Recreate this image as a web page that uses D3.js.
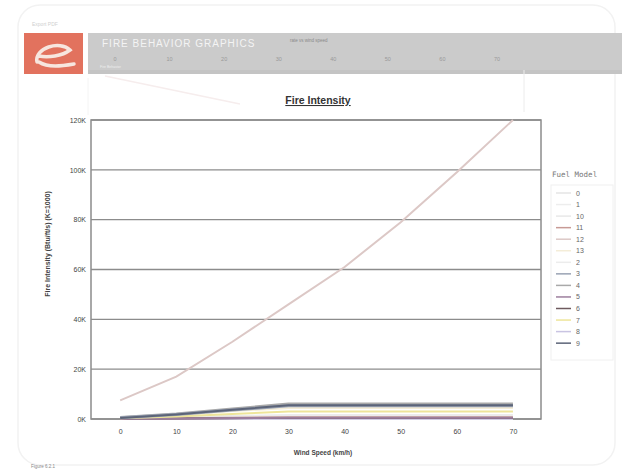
<!DOCTYPE html>
<html><head><meta charset="utf-8">
<script src="https://cdn.jsdelivr.net/npm/d3@7"></script>
<style>body{margin:0;background:#fff;font-family:"Liberation Sans",Arial,sans-serif}</style>
</head><body>
<svg id="c" width="628" height="472"></svg>
<script>
const windSpeeds = [0, 10, 20, 30, 40, 50, 60, 70];
const fuelModels = ["0","1","10","11","12","13","2","3","4","5","6","7","8","9"];
const colors = ["#e4e4e4","#ededed","#e8e8e8","#c79a95","#dcc8c6","#f4edd8","#ececec","#9aa3b4","#a9a9a9","#9d7f9e","#6e5a5e","#eee59a","#c9c4e2","#5c6478"];
const s0  = [0,0,0,0,0,0,0,0];
const s1  = [100,300,500,600,600,600,600,600];
const s10 = [200,700,1200,1500,1500,1500,1500,1500];
const s11 = [100,300,500,700,700,700,700,700];
const s12 = [7500,17000,31000,46000,61000,79000,99000,120000];
const s13 = [400,1500,3200,4400,4400,4400,4400,4400];
const s2  = [150,600,1000,1400,1400,1400,1400,1400];
const s3  = [500,1800,3600,5300,5300,5300,5300,5300];
const s4  = [600,2000,4000,6000,6000,6000,6000,6000];
const s5  = [100,250,400,500,500,500,500,500];
const s6  = [80,200,350,450,450,450,450,450];
const s7  = [300,1000,2000,3000,3000,3000,3000,3000];
const s8  = [0,50,80,100,100,100,100,100];
const s9  = [400,1800,3700,5500,5500,5500,5500,5500];
const seriesValues = [s0,s1,s10,s11,s12,s13,s2,s3,s4,s5,s6,s7,s8,s9];
const yTicks = [0,20000,40000,60000,80000,100000,120000];
const yTickLabels = ["0K","20K","40K","60K","80K","100K","120K"];
const xTicks = [0,10,20,30,40,50,60,70];
const drawOrder = [0,1,2,6,8,12,3,5,10,9,11,7,13,4];

const svg = d3.select("#c");
// card
svg.append("rect").attr("x",18).attr("y",5).attr("width",597).attr("height",460).attr("rx",22)
  .attr("fill","#fff").attr("stroke","#f2f2f2").attr("stroke-width",1.5);
svg.append("text").attr("x",32).attr("y",26).attr("font-size",5).attr("fill","#d0d0d0").text("Export PDF");
// header banner
svg.append("rect").attr("x",88).attr("y",33).attr("width",534).attr("height",41).attr("fill","#cbcbcb");
svg.append("rect").attr("x",88).attr("y",70).attr("width",534).attr("height",4).attr("fill","#c4c4c4");
svg.append("rect").attr("x",24).attr("y",33).attr("width",59).attr("height",41).attr("fill","#e2725e");
const lg = svg.append("g").attr("fill","none").attr("stroke","#f7e6df").attr("stroke-width",3.5).attr("stroke-linecap","round");
lg.append("path").attr("d","M37,62 C34,48 60,40 70,50 C62,56 48,58 39,56");
lg.append("path").attr("d","M39,62 C48,68 62,66 74,64");
svg.append("text").attr("x",102).attr("y",47).attr("font-size",10).attr("fill","#f4f4f4").attr("letter-spacing",1).text("FIRE BEHAVIOR GRAPHICS");
svg.append("text").attr("x",290).attr("y",42).attr("font-size",4.5).attr("fill","#8a8a8a").text("rate vs wind speed");
const hx = d3.scaleLinear().domain([0,70]).range([115,497]);
svg.append("g").selectAll("text").data(xTicks).join("text").attr("x",d=>hx(d)).attr("y",61)
  .attr("font-size",5.5).attr("fill","#999").attr("text-anchor","middle").text(d=>d);
svg.append("text").attr("x",100).attr("y",68).attr("font-size",3.5).attr("fill","#eee").text("Fire Behavior");
svg.append("line").attr("x1",524).attr("y1",70).attr("x2",524).attr("y2",112).attr("stroke","#ececec");
svg.append("line").attr("x1",105).attr("y1",76).attr("x2",240).attr("y2",104).attr("stroke","#f6eded").attr("stroke-width",1.5);
svg.append("line").attr("x1",88).attr("y1",78).attr("x2",88).attr("y2",115).attr("stroke","#f4f4f4");

// chart
const m = {l:91, r:541, t:120, b:419};
const x = d3.scaleLinear().domain([-5.2,75]).range([m.l,m.r]);
const y = d3.scaleLinear().domain([0,120000]).range([m.b,m.t]);

svg.append("text").attr("x",318).attr("y",104).attr("text-anchor","middle").attr("font-size",10.5)
  .attr("font-weight","bold").attr("fill","#333").attr("text-decoration","underline").text("Fire Intensity");

svg.append("g").selectAll("line").data(yTicks).join("line")
  .attr("x1",m.l).attr("x2",m.r).attr("y1",d=>y(d)).attr("y2",d=>y(d))
  .attr("stroke","#8c8c8c").attr("stroke-width",1.3);
svg.append("rect").attr("x",m.l).attr("y",m.t).attr("width",m.r-m.l).attr("height",m.b-m.t)
  .attr("fill","none").attr("stroke","#8c8c8c").attr("stroke-width",1.5);

const yAxis = svg.append("g").attr("transform",`translate(${m.l},0)`)
  .call(d3.axisLeft(y).tickValues(yTicks).tickFormat((d,i)=>yTickLabels[i]).tickSize(0).tickPadding(5));
yAxis.select(".domain").remove();
yAxis.selectAll("text").attr("font-size",7).attr("fill","#444").attr("font-family","Liberation Sans, Arial");
const xAxis = svg.append("g").attr("transform",`translate(0,${m.b})`)
  .call(d3.axisBottom(x).tickValues(xTicks).tickSize(0).tickPadding(10));
xAxis.select(".domain").remove();
xAxis.selectAll("text").attr("font-size",7).attr("fill","#444").attr("font-family","Liberation Sans, Arial");

svg.append("text").attr("transform","translate(50,244) rotate(-90)").attr("text-anchor","middle")
  .attr("font-size",7).attr("font-weight","bold").attr("fill","#444").text("Fire Intensity (Btu/ft/s) (K=1000)");
svg.append("text").attr("x",323).attr("y",455).attr("text-anchor","middle")
  .attr("font-size",6.5).attr("font-weight","bold").attr("fill","#444").text("Wind Speed (km/h)");
svg.append("text").attr("x",31).attr("y",468).attr("font-size",4.5).attr("fill","#888").text("Figure 6.2.1");

const line = d3.line().x((d,i)=>x(windSpeeds[i])).y(d=>y(d));
svg.append("g").selectAll("path").data(drawOrder).join("path")
  .attr("d",i=>line(seriesValues[i])).attr("fill","none").attr("stroke",i=>colors[i])
  .attr("stroke-width",i=>(i===8||i===7)?3:2);

// legend
svg.append("text").attr("x",552).attr("y",177).attr("font-size",7.5).attr("font-family","DejaVu Sans Mono, monospace")
  .attr("fill","#777").text("Fuel Model");
svg.append("rect").attr("x",551).attr("y",185).attr("width",62).attr("height",175).attr("fill","#fff").attr("stroke","#f0f0f0");
const leg = svg.append("g").selectAll("g").data(fuelModels).join("g")
  .attr("transform",(d,i)=>`translate(556,${193+i*11.55})`);
leg.append("line").attr("x1",0).attr("x2",15).attr("stroke",(d,i)=>colors[i]).attr("stroke-width",1.5);
leg.append("text").attr("x",20).attr("y",2.5).attr("font-size",7).attr("fill","#666").text(d=>d);
</script>
</body></html>
